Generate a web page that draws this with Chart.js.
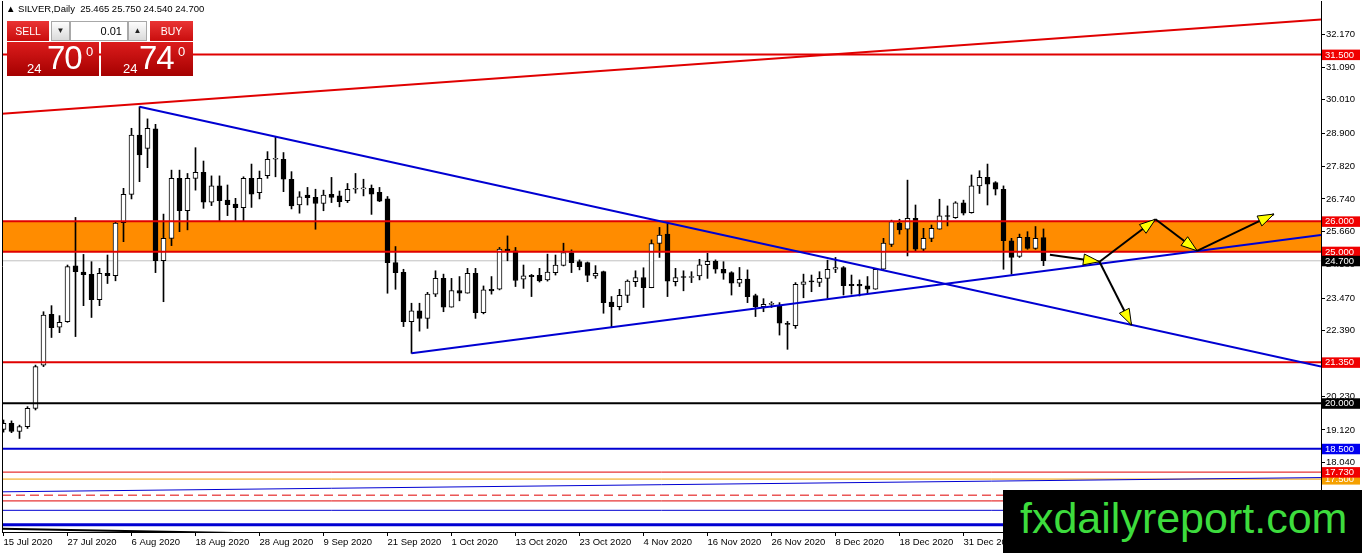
<!DOCTYPE html>
<html>
<head>
<meta charset="utf-8">
<title>SILVER Daily</title>
<script src="https://cdn.jsdelivr.net/npm/chart.js@4.4.1/dist/chart.umd.min.js"></script>
<style>
  html, body { margin: 0; padding: 0; background: #fff; }
  #wrap { position: relative; width: 1362px; height: 553px; overflow: hidden; font-family: "Liberation Sans", Arial, sans-serif; }
  canvas { display: block; }
  #hdr { position: absolute; left: 6px; top: 3px; font-size: 9.5px; color: #000; white-space: pre; }
  .p { position: absolute; box-sizing: border-box; }
  .btn { top: 21px; height: 20px; background: linear-gradient(#ea3434, #c90d0d); color: #fff; font-size: 10.5px; text-align: center; line-height: 20px; }
  .sell { left: 7px; width: 42px; }
  .buy { left: 150px; width: 43px; }
  .spin { top: 21px; width: 19px; height: 20px; background: linear-gradient(#fdfdfd, #dadada); border: 1px solid #a8a8a8; font-size: 8px; text-align: center; line-height: 18px; color: #222; }
  .dn { left: 51px; }
  .up { left: 128px; }
  .lot { left: 70px; top: 21px; width: 58px; height: 20px; border: 1px solid #a8a8a8; background: #fff; text-align: right; padding-right: 5px; font-size: 11px; line-height: 18px; color: #000; }
  .pr { top: 42px; height: 34px; width: 92px; background: linear-gradient(#dc1c1c, #a50000); color: #fff; }
  .ps { left: 7px; }
  .pb { left: 101px; }
  .pr span { position: absolute; line-height: 1; white-space: pre; }
  .sm { font-size: 13px; top: 19.7px; }
  .big { font-size: 33px; top: -1.5px; letter-spacing: -1px; }
  .sup { font-size: 13px; top: 3px; }
  #wm { position: absolute; left: 1003px; top: 490px; width: 359px; height: 63px; background: #000; }
  #wm span { position: absolute; left: 17px; top: 6.6px; font-size: 43px; line-height: 1; color: #3ddc3d; white-space: pre; }
</style>
</head>
<body>
<div id="wrap">
  <canvas id="chart" width="1362" height="553"></canvas>
  <div id="hdr">▲ SILVER,Daily  25.465 25.750 24.540 24.700</div>
  <div class="p btn sell">SELL</div>
  <div class="p spin dn">▼</div>
  <div class="p lot">0.01</div>
  <div class="p spin up">▲</div>
  <div class="p btn buy">BUY</div>
  <div class="p pr ps"><span class="sm" style="left:20px">24</span><span class="big" style="left:40px">70</span><span class="sup" style="left:79px">0</span></div>
  <div class="p pr pb"><span class="sm" style="left:22px">24</span><span class="big" style="left:38px">74</span><span class="sup" style="left:77px">0</span></div>
  <div id="wm"><span>fxdailyreport.com</span></div>
</div>
<script>
// x-axis date labels and the bar index where each one sits
const dateLabels = ['15 Jul 2020', '27 Jul 2020', '6 Aug 2020', '18 Aug 2020', '28 Aug 2020', '9 Sep 2020',
    '21 Sep 2020', '1 Oct 2020', '13 Oct 2020', '23 Oct 2020', '4 Nov 2020', '16 Nov 2020',
    '26 Nov 2020', '8 Dec 2020', '18 Dec 2020', '31 Dec 2020'];
const dateTickIdx = [0, 8, 16, 24, 32, 40, 48, 56, 64, 72, 80, 88, 96, 104, 112, 120];

// daily candles, 15 Jul 2020 .. 15 Jan 2021
const opens = [19.14, 19.34, 19.07, 19.23, 19.83, 21.26, 22.93, 22.51, 22.69, 24.53,
    24.33, 24.25, 23.42, 24.29, 24.21, 25.96, 26.89, 28.85, 28.41, 29.05,
    24.70, 25.44, 27.42, 26.35, 27.42, 27.62, 26.63, 27.17, 26.70, 26.57,
    26.45, 27.42, 26.95, 27.51, 28.05, 28.05, 27.39, 26.54, 26.87, 26.79,
    26.59, 26.89, 26.84, 26.68, 27.06, 27.07, 27.09, 26.96, 26.74, 24.64,
    24.32, 22.69, 23.05, 22.80, 23.60, 24.12, 23.17, 23.72, 23.63, 24.29,
    22.99, 23.76, 23.76, 25.09, 25.03, 24.09, 24.22, 24.22, 24.07, 24.31,
    24.55, 24.97, 24.67, 24.64, 24.20, 24.34, 23.34, 23.19, 23.56, 24.01,
    24.15, 23.81, 25.27, 25.58, 24.01, 24.18, 24.15, 24.20, 24.57, 24.68,
    24.42, 24.31, 23.96, 24.10, 23.55, 23.19, 23.26, 23.24, 22.64, 22.56,
    23.92, 24.04, 23.99, 24.12, 24.42, 24.48, 23.92, 23.92, 23.87, 23.76,
    24.42, 25.24, 25.94, 25.74, 26.10, 25.08, 25.44, 25.74, 26.18, 26.12,
    26.61, 26.29, 27.17, 27.45, 27.28, 27.06, 25.36, 24.84, 25.47, 25.11,
    25.465];
const highs = [19.45, 19.42, 19.28, 19.89, 21.26, 23.02, 23.22, 22.89, 24.56, 26.13,
    24.91, 24.67, 24.45, 24.89, 25.99, 27.09, 29.07, 29.78, 29.38, 29.20,
    26.24, 27.69, 27.69, 27.58, 28.43, 27.99, 27.50, 27.50, 27.20, 26.76,
    27.47, 27.89, 27.66, 28.30, 28.79, 28.27, 27.64, 26.98, 27.12, 27.06,
    27.03, 27.45, 27.00, 27.25, 27.58, 27.39, 27.20, 27.12, 26.82, 25.17,
    24.42, 23.30, 23.30, 23.66, 24.37, 24.26, 24.12, 24.18, 24.45, 24.45,
    23.87, 24.18, 25.14, 25.52, 25.14, 24.56, 24.25, 24.45, 24.92, 24.89,
    25.28, 25.06, 24.73, 24.66, 24.54, 24.36, 23.52, 23.76, 24.07, 24.37,
    24.47, 25.39, 25.80, 25.93, 24.45, 24.37, 24.34, 24.75, 24.95, 24.73,
    24.67, 24.34, 24.48, 24.40, 23.60, 23.45, 23.35, 23.32, 22.70, 23.98,
    24.26, 24.23, 24.34, 24.72, 24.81, 24.51, 24.23, 24.07, 24.18, 24.45,
    25.44, 26.04, 26.07, 27.36, 26.54, 25.77, 25.88, 26.73, 26.51, 26.65,
    26.70, 27.53, 27.67, 27.89, 27.31, 27.17, 25.44, 25.58, 25.66, 25.83,
    25.75];
const lows = [19.05, 19.03, 18.84, 19.17, 19.78, 21.21, 22.17, 22.33, 22.67, 22.20,
    23.22, 22.83, 23.22, 23.95, 24.04, 25.33, 26.74, 27.31, 27.77, 24.31,
    23.35, 25.20, 25.66, 25.72, 27.03, 26.43, 26.52, 25.99, 26.19, 25.99,
    25.99, 26.46, 26.74, 27.42, 27.47, 26.98, 26.41, 26.27, 26.54, 25.74,
    26.35, 26.62, 26.48, 26.62, 26.93, 26.84, 26.23, 26.65, 23.63, 23.76,
    22.53, 21.65, 22.38, 22.47, 23.52, 23.02, 23.17, 23.38, 23.63, 22.80,
    22.95, 23.60, 23.74, 24.70, 23.85, 23.79, 23.52, 24.00, 24.03, 24.23,
    24.53, 24.31, 24.40, 24.01, 24.12, 22.97, 22.50, 23.08, 23.32, 23.85,
    23.16, 23.81, 24.81, 23.52, 23.87, 23.71, 23.98, 24.07, 24.12, 24.29,
    24.09, 23.57, 23.85, 23.32, 22.86, 23.02, 23.16, 22.25, 21.78, 22.47,
    23.48, 23.68, 23.85, 23.46, 24.31, 23.57, 23.60, 23.54, 23.63, 23.76,
    24.40, 25.17, 25.58, 24.86, 25.00, 25.00, 25.33, 25.74, 25.85, 26.10,
    26.21, 26.27, 26.92, 26.54, 26.87, 24.42, 24.26, 24.81, 25.08, 25.08,
    24.54];
const closes = [19.34, 19.07, 19.23, 19.83, 21.21, 22.91, 22.49, 22.67, 24.51, 24.34,
    24.24, 23.42, 24.29, 24.21, 25.94, 26.89, 28.85, 28.19, 29.07, 24.70,
    25.44, 27.42, 26.35, 27.42, 27.62, 26.63, 27.17, 26.68, 26.55, 26.45,
    27.42, 26.90, 27.42, 28.05, 28.06, 27.39, 26.51, 26.81, 26.78, 26.59,
    26.87, 26.79, 26.65, 27.06, 27.07, 27.08, 26.90, 26.67, 24.64, 24.31,
    22.69, 23.05, 22.80, 23.60, 24.12, 23.17, 23.72, 23.63, 24.29, 22.99,
    23.74, 23.71, 25.09, 25.03, 24.05, 24.20, 24.18, 24.04, 24.33, 24.56,
    24.97, 24.64, 24.51, 24.22, 24.29, 23.32, 23.19, 23.56, 24.03, 24.15,
    23.81, 25.27, 25.55, 24.03, 24.15, 24.15, 24.18, 24.57, 24.68, 24.42,
    24.29, 23.96, 24.09, 23.52, 23.19, 23.26, 23.27, 22.64, 22.60, 23.92,
    24.01, 24.00, 24.12, 24.42, 24.48, 23.88, 23.88, 23.87, 23.76, 24.42,
    25.28, 25.99, 25.72, 26.10, 25.08, 25.44, 25.77, 26.18, 26.16, 26.61,
    26.27, 27.17, 27.45, 27.23, 27.06, 25.36, 24.81, 25.47, 25.11, 25.44,
    24.70];

// price axis ticks as printed by the terminal
const priceTicks = [32.17, 31.09, 30.01, 28.90, 27.82, 26.74, 25.66, 24.58, 23.47, 22.39,
    21.31, 20.23, 19.12, 18.04, 16.96];

// horizontal levels drawn on the chart
const levelPrices = [31.5, 26.0, 25.0, 21.35, 20.0, 18.5, 17.73, 17.5, 16.97, 16.78, 16.47, 15.99];
const bidPrice = 24.70;
const zoneTop = 26.0;
const zoneBottom = 25.0;

// price tags on the right axis
const tagPrices = [31.5, 26.0, 25.0, 24.7, 21.35, 20.0, 18.5, 17.5, 17.73];

// trend lines as [barIndex, price] pairs
const trendUpper = [[-0.19, 29.55], [164.69, 32.66]];
const trendDown = [[17, 29.78], [164.69, 21.21]];
const trendUp = [[51, 21.65], [164.69, 25.55]];
const trendLowBlue = [[-0.19, 17.08], [164.69, 17.55]];
const trendLowBlack = [[-0.19, 15.86], [40, 15.67]];

// scenario arrows
const arrowPaths = [
    [[130.8, 24.90], [137.0, 24.67]],
    [[137.0, 24.67], [144.0, 26.07]],
    [[137.0, 24.67], [141.0, 22.58]],
    [[144.0, 26.07], [149.2, 25.03]],
    [[149.2, 25.03], [158.8, 26.24]]
];

const X_MIN = -0.1875, X_MAX = 164.6875;
const Y_MIN = 15.755, Y_MAX = 33.268;

const RED = '#e00000';
const BLUE = '#0000d2';
const levelStyles = [
    { c: RED, w: 2 }, { c: RED, w: 2 }, { c: RED, w: 2 }, { c: RED, w: 2 },
    { c: '#000', w: 2 }, { c: BLUE, w: 2 }, { c: RED, w: 1 }, { c: '#f0a000', w: 1 },
    { c: RED, w: 1, d: [9, 5] }, { c: RED, w: 1 }, { c: BLUE, w: 1 }, { c: BLUE, w: 3 }
];
const tagColors = ['#f00000', '#f00000', '#f00000', '#000', '#f00000', '#000', '#0000f0', '#f5a000', '#f00000'];

const flat = (v) => [{ x: X_MIN, y: v }, { x: X_MAX, y: v }];
const seg = (pts) => pts.map(p => ({ x: p[0], y: p[1] }));
const lineDs = (data, color, width, dash, order) => ({
    type: 'line', data, borderColor: color, borderWidth: width, borderDash: dash || [],
    pointRadius: 0, fill: false, tension: 0, order: order
});

Chart.defaults.font.family = '"Liberation Sans", Arial, sans-serif';

const datasets = [
    // orange zone between 25 and 26
    { type: 'line', data: flat(zoneTop), borderWidth: 0, pointRadius: 0, fill: '+1', backgroundColor: '#ff8c00', order: 20 },
    { type: 'line', data: flat(zoneBottom), borderWidth: 0, pointRadius: 0, fill: false, order: 19 },
    lineDs(flat(bidPrice), '#c0c0c0', 1, null, 18),
    {
        type: 'bar',
        data: opens.map((o, i) => ({ x: i, y: [lows[i], highs[i]] })),
        backgroundColor: '#000', borderWidth: 0, barThickness: 1, grouped: false, order: 6
    },
    {
        type: 'bar',
        data: opens.map((o, i) => ({ x: i, y: [o, closes[i]] })),
        backgroundColor: opens.map((o, i) => closes[i] >= o ? '#fff' : '#000'),
        borderColor: '#000', borderWidth: 1, borderSkipped: false, minBarLength: 1,
        barThickness: 5, grouped: false, order: 5
    }
];
levelPrices.forEach((p, i) => {
    const s = levelStyles[i];
    datasets.push(lineDs(flat(p), s.c, s.w, s.d, 2));
});
datasets.push(lineDs(seg(trendUpper), RED, 2, null, 1));
datasets.push(lineDs(seg(trendDown), BLUE, 2, null, 1));
datasets.push(lineDs(seg(trendUp), BLUE, 2, null, 1));
datasets.push(lineDs(seg(trendLowBlue), BLUE, 1, null, 1));
datasets.push(lineDs(seg(trendLowBlack), '#000', 2, null, 1));

const overlay = {
    id: 'overlay',
    afterDatasetsDraw(chart) {
        const { ctx, scales: { x, y } } = chart;
        ctx.save();
        arrowPaths.forEach(([a, b]) => {
            const x1 = x.getPixelForValue(a[0]), y1 = y.getPixelForValue(a[1]);
            const x2 = x.getPixelForValue(b[0]), y2 = y.getPixelForValue(b[1]);
            ctx.strokeStyle = '#000';
            ctx.lineWidth = 2;
            ctx.beginPath();
            ctx.moveTo(x1, y1);
            ctx.lineTo(x2, y2);
            ctx.stroke();
            const ang = Math.atan2(y2 - y1, x2 - x1);
            const len = 16, half = 5.5;
            const bx = x2 - len * Math.cos(ang), by = y2 - len * Math.sin(ang);
            ctx.beginPath();
            ctx.moveTo(x2, y2);
            ctx.lineTo(bx + half * Math.sin(ang), by - half * Math.cos(ang));
            ctx.lineTo(bx - half * Math.sin(ang), by + half * Math.cos(ang));
            ctx.closePath();
            ctx.fillStyle = '#ffff00';
            ctx.fill();
            ctx.lineWidth = 1;
            ctx.stroke();
        });
        ctx.restore();
    },
    afterDraw(chart) {
        const { ctx, chartArea, scales: { y } } = chart;
        ctx.save();
        ctx.strokeStyle = '#000';
        ctx.lineWidth = 1;
        ctx.beginPath();
        ctx.moveTo(chartArea.left + 0.5, chartArea.top);
        ctx.lineTo(chartArea.left + 0.5, chartArea.bottom);
        ctx.stroke();
        ctx.font = '9.5px "Liberation Sans", Arial, sans-serif';
        ctx.textBaseline = 'middle';
        tagPrices.forEach((p, i) => {
            const py = y.getPixelForValue(p);
            ctx.fillStyle = tagColors[i];
            ctx.fillRect(chartArea.right + 1, py - 5, 38, 10.5);
            ctx.fillStyle = '#fff';
            ctx.fillText(p.toFixed(3), chartArea.right + 4, py + 0.5);
        });
        ctx.restore();
    }
};

new Chart(document.getElementById('chart'), {
    type: 'bar',
    data: { datasets },
    options: {
        responsive: false,
        animation: false,
        events: [],
        layout: { padding: { left: 2, top: 1, right: 0, bottom: 0 } },
        plugins: { legend: { display: false }, tooltip: { enabled: false } },
        scales: {
            x: {
                type: 'linear', min: X_MIN, max: X_MAX, offset: false,
                grid: { offset: false, drawOnChartArea: false, tickLength: 4, color: '#000' },
                border: { color: '#000' },
                afterBuildTicks: (axis) => { axis.ticks = dateTickIdx.map(v => ({ value: v })); },
                afterFit: (axis) => {
                    axis.height = 21;
                    axis.paddingLeft = 0; axis.paddingRight = 0;
                },
                ticks: {
                    autoSkip: false, maxRotation: 0, minRotation: 0, align: 'start', padding: 1,
                    color: '#000', font: { size: 9.5 },
                    callback: (v) => {
                        const k = dateTickIdx.indexOf(v);
                        return k >= 0 ? dateLabels[k] : '';
                    }
                }
            },
            y: {
                type: 'linear', position: 'right', min: Y_MIN, max: Y_MAX,
                grid: { drawOnChartArea: false, tickLength: 4, color: '#000' },
                border: { color: '#000' },
                afterBuildTicks: (axis) => { axis.ticks = priceTicks.map(v => ({ value: v })); },
                afterFit: (axis) => {
                    axis.width = 41;
                    axis.paddingTop = 0; axis.paddingBottom = 0;
                },
                ticks: {
                    padding: 1, color: '#000', font: { size: 9.5 },
                    callback: (v) => Number(v).toFixed(3)
                }
            }
        }
    },
    plugins: [overlay]
});
</script>
</body>
</html>
